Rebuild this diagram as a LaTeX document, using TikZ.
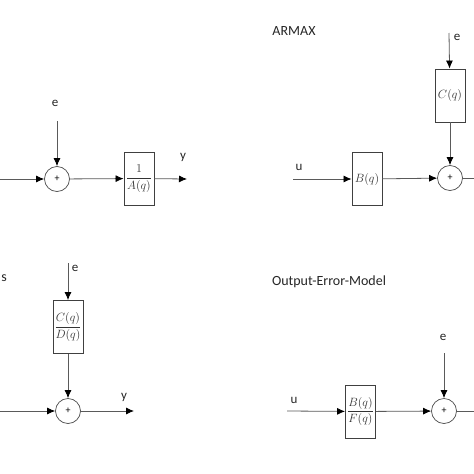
\documentclass[tikz,border=0pt]{standalone}
\usepackage{amsmath}
\usepackage{fontspec}
\setmainfont{Carlito}
\usetikzlibrary{arrows.meta}
\definecolor{wire}{HTML}{5A5A5A}
\tikzstyle{block}=[draw=black!75, line width=0.9pt, fill=white, inner sep=0pt, minimum width=30pt, minimum height=53pt, font=\fontsize{12}{14}\selectfont, text=black!80]
\tikzstyle{sum}=[circle, draw=black!70, line width=0.7pt, inner sep=0pt, minimum size=25pt, font=\fontsize{10}{12}\selectfont]
\tikzstyle{sig}=[draw=wire, line width=0.8pt, -{Latex[length=8pt,width=7pt,color=black]}]
\tikzstyle{wireline}=[draw=wire, line width=0.8pt]
\tikzstyle{txt}=[inner sep=0pt, font=\fontsize{13}{15}\selectfont, text=black!85]
\tikzstyle{title}=[inner sep=0pt, font=\fontsize{14}{16}\selectfont, text=black!85]

\begin{document}
\begin{tikzpicture}[x=1pt, y=-1pt]
    \useasboundingbox (0,0) rectangle (474,474);
    \fill[white] (0,0) rectangle (474,474);
    % ARX
    \coordinate (in1) at (0,179);
    \coordinate (e1) at (57,121);
    \node[sum] (sum1) at (57,179) {+};
    \node[block] (A) at (139,178.5) {$\dfrac{1}{A(q)}$};
    \coordinate (y1) at (187,179);
    \node[txt] (e1lab) at (55,103) {e};
    \node[txt] (y1lab) at (183,157) {y};
    \draw[sig] (in1) -- (sum1);
    \draw[sig] (e1) -- (sum1);
    \draw[sig] (sum1) -- (A);
    \draw[sig] (A) -- (y1);
    % ARMAX
    \node[title] (armax) at (294,31) {ARMAX};
    \coordinate (e2) at (449,33);
    \node[txt] (e2lab) at (457,37) {e};
    \node[block] (C) at (450,95.5) {$C(q)$};
    \node[sum] (sum2) at (450,178) {+};
    \coordinate (u2) at (293,179);
    \node[txt] (u2lab) at (299,167) {u};
    \node[block] (B) at (367,179) {$B(q)$};
    \coordinate (out2) at (474,178);
    \draw[sig] (e2) -- (C);
    \draw[sig] (C) -- (sum2);
    \draw[sig] (u2) -- (B);
    \draw[sig] (B) -- (sum2);
    \draw[wireline] (sum2) -- (out2);
    % Box-Jenkins
    \node[title] (bjlab) at (4,278) {s};
    \coordinate (e3) at (68,263);
    \node[txt] (e3lab) at (75,268) {e};
    \node[block] (CD) at (68,327) {$\dfrac{C(q)}{D(q)}$};
    \node[sum] (sum3) at (68,411) {+};
    \coordinate (in3) at (0,411);
    \coordinate (y3) at (134,411);
    \node[txt] (y3lab) at (124,397) {y};
    \draw[sig] (e3) -- (CD);
    \draw[sig] (CD) -- (sum3);
    \draw[sig] (in3) -- (sum3);
    \draw[sig] (sum3) -- (y3);
    % Output-Error
    \node[title] (oelab) at (329,282) {Output-Error-Model};
    \coordinate (e4) at (444,353);
    \node[txt] (e4lab) at (443,337) {e};
    \node[sum] (sum4) at (444,411) {+};
    \coordinate (u4) at (287,411);
    \node[txt] (u4lab) at (294,400) {u};
    \node[block] (BF) at (360.5,411.5) {$\dfrac{B(q)}{F(q)}$};
    \coordinate (out4) at (474,411);
    \draw[sig] (e4) -- (sum4);
    \draw[sig] (u4) -- (BF);
    \draw[sig] (BF) -- (sum4);
    \draw[wireline] (sum4) -- (out4);
\end{tikzpicture}
\end{document}
